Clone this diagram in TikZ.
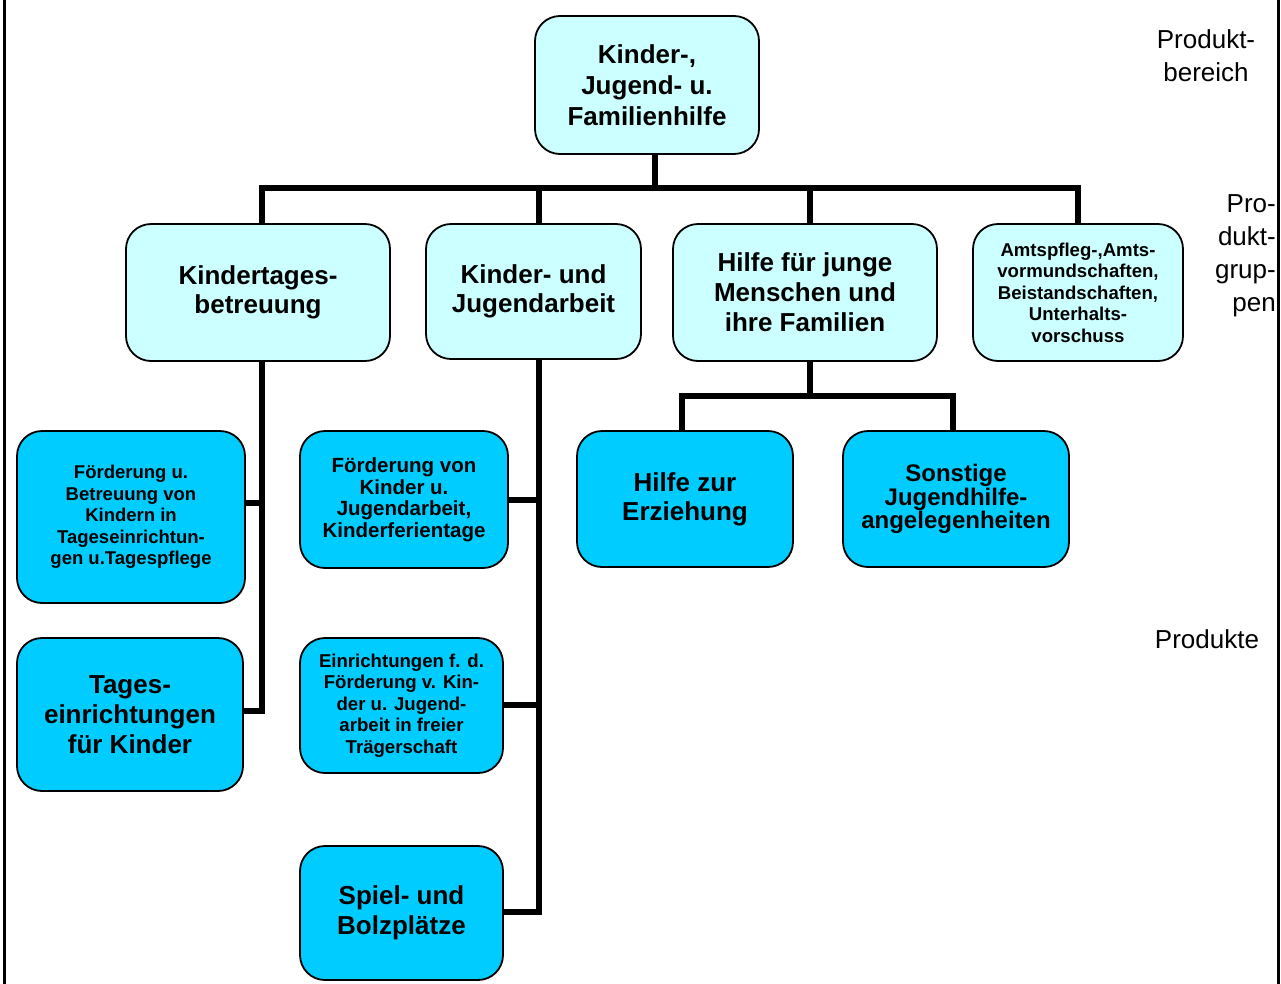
\documentclass[tikz,border=0pt]{standalone}
\usepackage{fontspec}
\setmainfont{Liberation Sans}
\begin{document}
\begin{tikzpicture}[x=1pt,y=-1pt,
  lbox/.style={draw=black,line width=1.8pt,rounded corners=25pt,fill=lightcyan,inner sep=0pt,align=center,font=\bfseries\fontsize{26}{30}\selectfont},
  dbox/.style={lbox,fill=deepcyan},
  conn/.style={line width=6pt,draw=black},
  side/.style={inner sep=0pt,font=\fontsize{26}{33}\selectfont}]
\definecolor{lightcyan}{HTML}{CCFFFF}
\definecolor{deepcyan}{HTML}{00CCFF}
\useasboundingbox (0,0) rectangle (1281,983);
\draw[line width=3pt] (4.5,-2) -- (4.5,985);
\draw[line width=3pt] (1278.5,-2) -- (1278.5,985);

% coordinates of connector junctions
\coordinate (t0) at (655,188);
\coordinate (b1) at (262,188);
\coordinate (b2) at (539,188);
\coordinate (b3) at (810,188);
\coordinate (b4) at (1078,188);
\coordinate (k1) at (262,503);
\coordinate (k2) at (262,711);
\coordinate (j1) at (539,500);
\coordinate (j2) at (539,705);
\coordinate (j3) at (539,912);
\coordinate (h0) at (810,396);
\coordinate (h1) at (682,396);
\coordinate (h2) at (953,396);

% nodes
\node[lbox,minimum width=224,minimum height=138,font=\bfseries\fontsize{26}{31}\selectfont] (top) at (647,85) {Kinder-,\\Jugend- u.\\Familienhilfe};
\node[lbox,minimum width=264,minimum height=137,font=\bfseries\fontsize{26}{29}\selectfont] (kt) at (258,292.5) {Kindertages-\\betreuung};
\node[lbox,minimum width=215,minimum height=135,font=\bfseries\fontsize{26}{29}\selectfont] (kj) at (533.5,291.5) {Kinder- und\\Jugendarbeit};
\node[lbox,minimum width=264,minimum height=137] (hj) at (805,292.5) {Hilfe für junge\\Menschen und\\ihre Familien};
\node[lbox,minimum width=210,minimum height=137,font=\bfseries\fontsize{18.6}{21.5}\selectfont] (am) at (1078,292.5) {Amtspfleg-,Amts-\\vormundschaften,\\Beistandschaften,\\Unterhalts-\\vorschuss};

\node[dbox,minimum width=228,minimum height=172,font=\bfseries\fontsize{18.5}{21.5}\selectfont] (fb) at (131,517) {Förderung u.\\Betreuung von\\Kindern in\\Tageseinrichtun-\\gen u.Tagespflege};
\node[dbox,minimum width=226,minimum height=153] (te) at (130,714.5) {Tages-\\einrichtungen\\für Kinder};
\node[dbox,minimum width=208,minimum height=137,font=\bfseries\fontsize{20.5}{21.5}\selectfont] (fj) at (404,499.5) {Förderung von\\Kinder u.\\Jugendarbeit,\\Kinderferientage};
\node[dbox,minimum width=203,minimum height=135,font=\bfseries\fontsize{18.6}{21.5}\selectfont] (ej) at (401.5,705.5) {Einrichtungen f. d.\\Förderung v. Kin-\\der u. Jugend-\\arbeit in freier\\Trägerschaft};
\node[dbox,minimum width=203,minimum height=134] (sb) at (401.5,913) {Spiel- und\\Bolzplätze};
\node[dbox,minimum width=216,minimum height=136,font=\bfseries\fontsize{26}{29}\selectfont] (he) at (685,499) {Hilfe zur\\Erziehung};
\node[dbox,minimum width=226,minimum height=136,font=\bfseries\fontsize{24}{21}\selectfont] (sj) at (956,499) {Sonstige\\Jugendhilfe-\\angelegenheiten};

% side labels
\node[side,align=center] (lb1) at (1206,56) {Produkt-\\bereich};
\node[side,align=right,anchor=east] (lb2) at (1276,256) {Pro-\\dukt-\\grup-\\pen};
\node[side] (lb3) at (1207,639) {Produkte};

% connectors
\draw[conn] (t0 |- top.south) -- (t0);
\draw[conn] (b1 |- kt.north) -- (b1) -- (b4) -- (b4 |- am.north);
\draw[conn] (b2) -- (b2 |- kj.north);
\draw[conn] (b3) -- (b3 |- hj.north);
\draw[conn] (k1 |- kt.south) -- (k2) -- (k2 -| te.east);
\draw[conn] (k1) -- (k1 -| fb.east);
\draw[conn] (j3 |- kj.south) -- (j3) -- (j3 -| sb.east);
\draw[conn] (j1) -- (j1 -| fj.east);
\draw[conn] (j2) -- (j2 -| ej.east);
\draw[conn] (h0 |- hj.south) -- (h0);
\draw[conn] (h1 |- he.north) -- (h1) -- (h2) -- (h2 |- sj.north);
\end{tikzpicture}
\end{document}
